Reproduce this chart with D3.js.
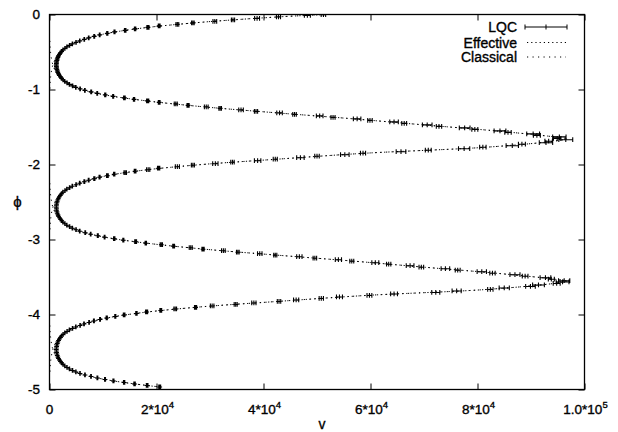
<!DOCTYPE html>
<html><head><meta charset="utf-8">
<script src="https://cdn.jsdelivr.net/npm/d3@7"></script>
<style>
body{margin:0;background:#fff;}
svg{display:block;}
text{font-family:"Liberation Sans",Arial,Helvetica,sans-serif;fill:#000;}
</style>
</head><body>
<svg id="c" width="618" height="432"></svg>
<script>
// ---------- data ----------
const xTicks = [0, 20000, 40000, 60000, 80000, 100000];
const xTickBase = ["0", "2*10", "4*10", "6*10", "8*10", "1.0*10"];
const xTickExp  = ["", "4", "4", "4", "4", "5"];
const yTicks = [0, -1, -2, -3, -4, -5];
const yTickLabels = ["0", "-1", "-2", "-3", "-4", "-5"];
const legendLabels = ["LQC", "Effective", "Classical"];
const xLabel = "v";
const yLabel = "\u03d5";

// LQC expectation values (phi, <v>) with dispersion
const lqcPhi = [
-0.002,-0.012,-0.032,-0.052,-0.072,-0.092,-0.112,-0.132,-0.152,-0.172,-0.192,-0.212,-0.232,-0.252,-0.272,-0.292,-0.312,-0.332,-0.352,-0.372,-0.392,-0.412,-0.432,-0.452,-0.472,-0.492,-0.512,-0.532,-0.552,-0.572,-0.592,-0.612,-0.632,-0.652,-0.672,
-0.692,-0.712,-0.732,-0.752,-0.772,-0.792,-0.812,-0.832,-0.852,-0.872,-0.892,-0.912,-0.932,-0.952,-0.972,-0.992,-1.012,-1.032,-1.052,-1.072,-1.092,-1.112,-1.132,-1.152,-1.172,-1.192,-1.212,-1.232,-1.252,-1.272,-1.292,-1.312,-1.332,-1.352,-1.372,-1.392,-1.412,-1.432,-1.452,-1.472,-1.492,-1.512,-1.532,-1.552,-1.572,-1.592,-1.612,-1.632,-1.652,
-1.669,-1.689,-1.709,-1.729,-1.749,-1.769,-1.789,-1.809,-1.829,-1.849,-1.869,-1.889,-1.909,-1.929,-1.949,-1.969,-1.989,-2.009,-2.029,-2.049,-2.069,-2.089,-2.109,-2.129,-2.149,-2.169,-2.189,-2.209,-2.229,-2.249,-2.269,-2.289,-2.309,-2.329,-2.349,-2.369,-2.389,-2.409,-2.429,-2.449,-2.469,-2.489,-2.509,-2.529,-2.549,-2.569,
-2.589,-2.609,-2.629,-2.649,-2.669,-2.689,-2.709,-2.729,-2.749,-2.769,-2.789,-2.809,-2.829,-2.849,-2.869,-2.889,-2.909,-2.929,-2.949,-2.969,-2.989,-3.009,-3.029,-3.049,-3.069,-3.089,-3.109,-3.129,-3.149,-3.169,-3.189,-3.209,-3.229,-3.249,-3.269,-3.289,-3.309,-3.329,-3.349,-3.369,-3.389,-3.409,-3.429,-3.449,-3.469,-3.489,-3.509,-3.529,-3.549,
-3.566,-3.586,-3.606,-3.626,-3.646,-3.666,-3.686,-3.706,-3.726,-3.746,-3.766,-3.786,-3.806,-3.826,-3.846,-3.866,-3.886,-3.906,-3.926,-3.946,-3.966,-3.986,-4.006,-4.026,-4.046,-4.066,-4.086,-4.106,-4.126,-4.146,-4.166,-4.186,-4.206,-4.226,-4.246,-4.266,-4.286,-4.306,-4.326,-4.346,-4.366,-4.386,-4.406,-4.426,-4.446,-4.466,
-4.486,-4.506,-4.526,-4.546,-4.566,-4.586,-4.606,-4.626,-4.646,-4.666,-4.686,-4.706,-4.726,-4.746,-4.766,-4.786,-4.806,-4.826,-4.846,-4.866,-4.886,-4.906,-4.926,-4.946,-4.966
];
const lqcV = [
51200,48200,42800,38800,34300,30900,26800,23900,20500,18400,16000,14150,12150,10800,9380,8360,7330,6500,5660,4960,4270,3750,3250,2880,2510,2270,2040,1860,1670,1560,1450,1390,1320,1290,1270,
1290,1330,1380,1460,1550,1690,1840,2060,2260,2530,2850,3280,3720,4310,4920,5720,6610,7790,8920,10420,11900,14000,15800,18350,20500,23600,25900,29300,31900,35800,38600,43000,45800,50500,53000,57500,59900,64400,66300,70600,72800,77600,79500,84200,85700,90400,91100,95300,94900,
96500,93300,92800,88300,86500,81000,77500,70800,65700,58600,55200,50000,46900,42200,38900,34200,31000,26800,23900,20400,18450,16000,14150,12100,10820,9360,8380,7320,6510,5650,4970,4260,3760,3240,2890,2500,2280,2040,1860,1670,1570,1450,1390,1320,1290,1270,
1300,1320,1390,1450,1570,1670,1860,2040,2280,2500,2880,3240,3760,4270,4960,5650,6680,7700,9030,10300,12100,13800,16100,18000,20900,23200,26400,28700,32500,35200,39300,42200,46700,49600,54000,56500,60900,63400,67400,69500,74000,76300,80800,82800,87000,88900,92700,93800,96200,
95900,94800,91400,89900,85000,82400,76100,72200,64400,59800,54200,50800,46100,42900,38200,34800,30400,27300,23500,20800,18150,16250,13950,12300,10700,9450,8300,7400,6450,5720,4920,4300,3720,3280,2860,2530,2260,2060,1840,1690,1550,1460,1380,1330,1290,1270,
1290,1320,1390,1450,1560,1680,1850,2050,2270,2520,2860,3270,3730,4300,4930,5700,6630,7760,8950,10380,11950,13950,15900,18250,20600
];
const lqcErr = [
420,560,380,460,300,350,240,260,170,200,130,140,100,110,70,80,60,55,40,40,30,30,25,20,20,15,15,15,12,12,10,10,10,10,10,
10,10,10,12,12,14,15,18,20,22,25,30,35,40,45,55,60,80,70,110,90,150,120,200,160,280,200,350,240,430,300,520,330,620,380,700,420,800,450,900,500,1000,560,1100,600,1200,650,1250,700,
1300,700,1250,650,1150,600,1050,550,900,480,800,420,700,380,600,320,500,280,380,210,300,160,230,120,160,95,110,75,80,56,50,42,38,32,28,25,22,20,18,16,15,14,13,12,11,10,
10,11,12,12,14,15,16,18,20,22,26,30,36,42,48,56,66,60,90,75,125,100,170,130,220,170,280,210,340,250,420,290,500,330,580,370,650,400,720,430,800,460,870,500,940,530,1000,560,1050,
1200,650,1100,900,950,500,850,750,640,450,560,400,480,320,400,280,330,200,250,170,190,130,150,100,110,80,85,60,65,48,45,36,35,28,25,22,20,18,16,15,14,13,12,11,10,10,
10,10,11,12,13,14,15,17,19,21,24,28,32,37,42,48,56,66,76,88,100,120,135,155,175
];

// effective (LQC effective dynamics) trajectory
const effPhi = [0,-0.032,-0.112,-0.192,-0.272,-0.352,-0.432,-0.512,-0.592,-0.672,-0.752,-0.832,-0.912,-0.992,-1.072,-1.152,-1.232,-1.312,-1.392,-1.472,-1.552,-1.632,-1.657,-1.689,-1.769,-1.849,-1.929,-2.009,-2.089,-2.169,-2.249,-2.329,-2.409,-2.489,-2.569,-2.649,-2.729,-2.809,-2.889,-2.969,-3.049,-3.129,-3.209,-3.289,-3.369,-3.449,-3.529,-3.554,-3.586,-3.666,-3.746,-3.826,-3.906,-3.986,-4.066,-4.146,-4.226,-4.306,-4.386,-4.466,-4.546,-4.626,-4.706,-4.786,-4.866,-4.946,-4.966];
const effV = [51600,42800,27000,16124,9413,5685,3262,2050,1454,1268,1454,2050,3262,5685,10345,18174,28985,42592,56945,69993,83414,94411,96648,94225,81736,59182,42592,27000,16124,9413,5685,3262,2050,1454,1268,1454,2050,3262,5685,10345,18174,28985,42592,56945,69993,83414,94411,96648,94225,81736,59182,42592,27000,16124,9413,5685,3262,2050,1454,1268,1454,2050,3262,5685,10345,18174,20700];

// classical trajectories (each runs into v -> 0 near a bounce)
const clsPhi1 = [0,-0.032,-0.112,-0.192,-0.272,-0.352,-0.432,-0.512,-0.592,-0.672,-0.752,-0.832,-0.912,-0.992];
const clsV1   = [51600,42800,27000,16124,9413,5610,3240,1880,1090,634,368,213,124,72];
const clsPhi2 = [-0.352,-0.432,-0.512,-0.592,-0.672,-0.752,-0.832,-0.912,-0.992,-1.072,-1.152,-1.232,-1.312,-1.392,-1.472,-1.552,-1.632,-1.657,-1.689,-1.769,-1.849,-1.929,-2.009,-2.089,-2.169,-2.249,-2.329,-2.409,-2.489,-2.569,-2.649,-2.729,-2.809,-2.889];
const clsV2   = [72,124,213,368,634,1090,1880,3240,5610,10345,18174,28985,42592,56945,69993,83414,94411,96648,94225,81736,59182,42592,27000,16124,9413,5610,3240,1880,1090,634,368,213,124,72];
const clsPhi3 = [-2.249,-2.329,-2.409,-2.489,-2.569,-2.649,-2.729,-2.809,-2.889,-2.969,-3.049,-3.129,-3.209,-3.289,-3.369,-3.449,-3.529,-3.554,-3.586,-3.666,-3.746,-3.826,-3.906,-3.986,-4.066,-4.146,-4.226,-4.306,-4.386,-4.466,-4.546,-4.626,-4.706,-4.786];
const clsV3   = [72,124,213,368,634,1090,1880,3240,5610,10345,18174,28985,42592,56945,69993,83414,94411,96648,94225,81736,59182,42592,27000,16124,9413,5610,3240,1880,1090,634,368,213,124,72];
const clsPhi4 = [-4.146,-4.226,-4.306,-4.386,-4.466,-4.546,-4.626,-4.706,-4.786,-4.866,-4.946,-4.966];
const clsV4   = [72,124,213,368,634,1090,1880,3240,5610,10345,18174,20700];

// ---------- chart ----------
const svg = d3.select("#c");
const L = 49.5, R = 584.5, T = 14.5, B = 389.5;
const x = d3.scaleLinear().domain([0, 100000]).range([L, R]);
const y = d3.scaleLinear().domain([-5, 0]).range([B, T]);

svg.append("defs").append("clipPath").attr("id", "clip")
  .append("rect").attr("x", L).attr("y", T).attr("width", R - L).attr("height", B - T);

const plot = svg.append("g").attr("clip-path", "url(#clip)");

const line = d3.line().x(d => x(d[1])).y(d => y(d[0])).curve(d3.curveCatmullRom.alpha(0.5));

// classical
[[clsPhi1, clsV1], [clsPhi2, clsV2], [clsPhi3, clsV3], [clsPhi4, clsV4]].forEach(([p, v]) => {
  plot.append("path").attr("d", line(d3.zip(p, v)))
    .attr("fill", "none").attr("stroke", "#000").attr("stroke-width", 1)
    .attr("stroke-dasharray", "1.2,4.3");
});
// effective
plot.append("path").attr("d", line(d3.zip(effPhi, effV)))
  .attr("fill", "none").attr("stroke", "#000").attr("stroke-width", 1)
  .attr("stroke-dasharray", "1.2,3");

// LQC with horizontal error bars
const n = Math.min(lqcPhi.length, lqcV.length, lqcErr.length);
let dPath = "";
const a = 2.4;
for (let i = 0; i < n; i++) {
  const yc = y(lqcPhi[i]), xc = x(lqcV[i]);
  const x1 = x(lqcV[i] - lqcErr[i]), x2 = x(lqcV[i] + lqcErr[i]);
  dPath += `M${x1},${yc}H${x2}M${x1},${yc - a}V${yc + a}M${x2},${yc - a}V${yc + a}` +
           `M${xc},${yc - a}V${yc + a}M${xc - a},${yc}H${xc + a}`;
}
plot.append("path").attr("d", dPath).attr("fill", "none")
  .attr("stroke", "#000").attr("stroke-width", 1.1);

// frame
svg.append("rect").attr("x", L).attr("y", T).attr("width", R - L).attr("height", B - T)
  .attr("fill", "none").attr("stroke", "#000").attr("stroke-width", 1.3);

// ticks (inward, mirrored)
const fontFam = '"Liberation Sans",Arial,Helvetica,sans-serif';
const gB = svg.append("g").attr("transform", `translate(0,${B})`)
  .call(d3.axisBottom(x).tickValues(xTicks).tickSize(-6).tickSizeOuter(0).tickFormat(""));
const gT = svg.append("g").attr("transform", `translate(0,${T})`)
  .call(d3.axisTop(x).tickValues(xTicks).tickSize(-6).tickSizeOuter(0).tickFormat(""));
const gL = svg.append("g").attr("transform", `translate(${L},0)`)
  .call(d3.axisLeft(y).tickValues(yTicks).tickSize(-6).tickSizeOuter(0).tickFormat(""));
const gR = svg.append("g").attr("transform", `translate(${R},0)`)
  .call(d3.axisRight(y).tickValues(yTicks).tickSize(-6).tickSizeOuter(0).tickFormat(""));
[gB, gT, gL, gR].forEach(g => { g.select(".domain").remove(); g.selectAll("line").attr("stroke", "#000"); g.selectAll("text").remove(); });

const textStyle = s => s.attr("font-family", fontFam).attr("stroke", "#000").attr("stroke-width", 0.35);

// x tick labels
xTicks.forEach((t, i) => {
  const tx = svg.append("text").attr("x", x(t) + (xTickExp[i] ? 1 : 0)).attr("y", 413.5)
    .attr("text-anchor", "middle").attr("font-size", 13.5).call(textStyle);
  tx.append("tspan").text(xTickBase[i]);
  if (xTickExp[i]) tx.append("tspan").attr("dy", -5.5).attr("font-size", 9.5).text(xTickExp[i]);
});
// y tick labels
yTicks.forEach((t, i) => {
  svg.append("text").attr("x", 40).attr("y", y(t) + 4.8)
    .attr("text-anchor", "end").attr("font-size", 13.5).call(textStyle)
    .text(yTickLabels[i]);
});
// axis labels
svg.append("text").attr("x", 322).attr("y", 428.5).attr("text-anchor", "middle")
  .attr("font-size", 14).call(textStyle).text(xLabel);
svg.append("text").attr("x", 17.5).attr("y", 207).attr("text-anchor", "middle")
  .attr("font-size", 15).call(textStyle).text(yLabel);

// legend
const legY = [27, 42.5, 57];
legendLabels.forEach((lab, i) => {
  svg.append("text").attr("x", 517).attr("y", legY[i] + 5).attr("text-anchor", "end")
    .attr("font-size", 14).call(textStyle).text(lab);
});
const lg = svg.append("g").attr("stroke", "#000").attr("fill", "none").attr("stroke-width", 1);
lg.append("path").attr("d", `M525,${legY[0]}H567M525,${legY[0]-2.5}V${legY[0]+2.5}M546,${legY[0]-2.5}V${legY[0]+2.5}M567,${legY[0]-2.5}V${legY[0]+2.5}`);
lg.append("path").attr("d", `M527,${legY[1]}H566`).attr("stroke-dasharray", "1.2,3");
lg.append("path").attr("d", `M527,${legY[2]}H566`).attr("stroke-dasharray", "1.2,4.3");
</script>
</body></html>
